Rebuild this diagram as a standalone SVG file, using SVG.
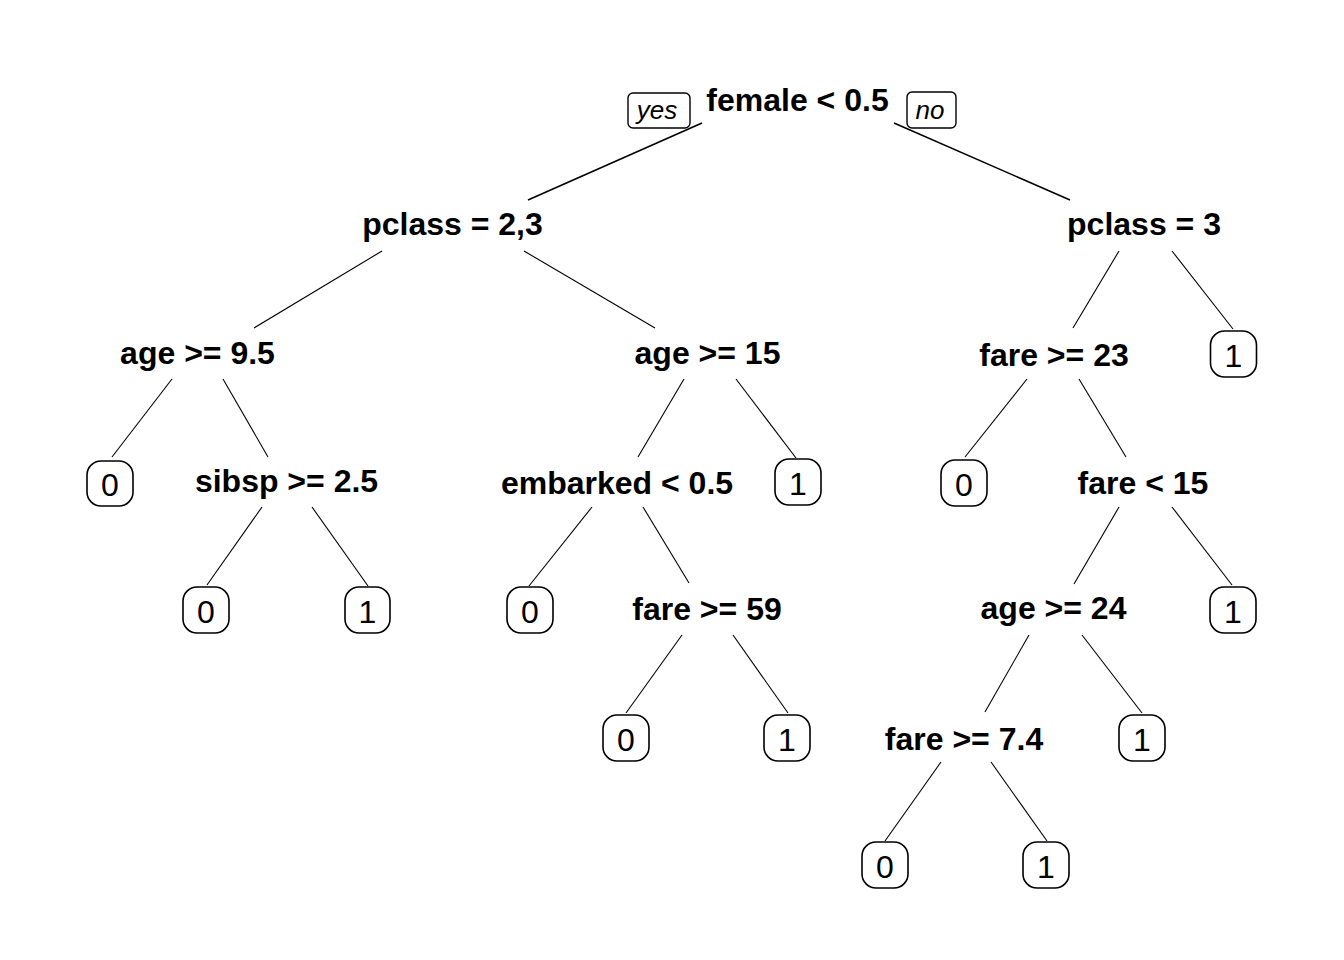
<svg xmlns="http://www.w3.org/2000/svg" width="1344" height="960" viewBox="0 0 1344 960">
<style>
.split{font-family:"Liberation Sans",Arial,sans-serif;font-weight:bold;font-size:32px;text-anchor:middle;fill:#000}
.leaf rect{fill:#fff;stroke:#000;stroke-width:1.6}
.leaf text{font-family:"Liberation Sans",Arial,sans-serif;font-size:32px;text-anchor:middle;fill:#000}
.yn rect{fill:#fff;stroke:#000;stroke-width:1.4}
.yn text{font-family:"Liberation Sans",Arial,sans-serif;font-style:italic;font-size:26px;text-anchor:middle;fill:#000}
.edges line{stroke:#000;stroke-width:1.1}
.edges line.root{stroke-width:1.6}
</style>
<rect width="1344" height="960" fill="#fff"/>
<g class="edges" id="connectors">
<line class="root" x1="702" y1="123" x2="528" y2="200"/>
<line class="root" x1="894" y1="123" x2="1070" y2="200"/>
<line x1="382" y1="251" x2="254" y2="328"/>
<line x1="524" y1="251" x2="655" y2="328"/>
<line x1="1119" y1="251" x2="1073" y2="328"/>
<line x1="1172" y1="251" x2="1233" y2="329"/>
<line x1="172" y1="379" x2="112" y2="457"/>
<line x1="223" y1="379" x2="268" y2="457"/>
<line x1="684" y1="379" x2="638" y2="457"/>
<line x1="736" y1="379" x2="796" y2="458"/>
<line x1="1027" y1="379" x2="965" y2="457"/>
<line x1="1079" y1="379" x2="1126" y2="457"/>
<line x1="262" y1="507" x2="207" y2="585"/>
<line x1="312" y1="507" x2="368" y2="586"/>
<line x1="592" y1="507" x2="529" y2="586"/>
<line x1="643" y1="507" x2="689" y2="583"/>
<line x1="1119" y1="507" x2="1074" y2="584"/>
<line x1="1172" y1="507" x2="1232" y2="585"/>
<line x1="682" y1="635" x2="626" y2="713"/>
<line x1="733" y1="635" x2="788" y2="713"/>
<line x1="1029" y1="635" x2="985" y2="712"/>
<line x1="1082" y1="635" x2="1142" y2="713"/>
<line x1="941" y1="762" x2="885" y2="841"/>
<line x1="991" y1="762" x2="1047" y2="841"/>
</g>
<g class="yn" id="yes-label"><rect x="628" y="93" width="62" height="35" rx="5"/><text x="657" y="118.5">yes</text></g>
<g class="yn" id="no-label"><rect x="907" y="92" width="49" height="36" rx="5"/><text x="930" y="118.5">no</text></g>
<g id="n-female"><text class="split" x="797.5" y="111">female &lt; 0.5</text></g>
<g id="n-pclass23"><text class="split" x="452.5" y="235">pclass = 2,3</text></g>
<g id="n-pclass3"><text class="split" x="1144" y="235">pclass = 3</text></g>
<g id="n-age95"><text class="split" x="197.5" y="364">age &gt;= 9.5</text></g>
<g id="n-age15"><text class="split" x="707.5" y="364">age &gt;= 15</text></g>
<g id="n-fare23"><text class="split" x="1054" y="366">fare &gt;= 23</text></g>
<g id="n-sibsp"><text class="split" x="286.5" y="492">sibsp &gt;= 2.5</text></g>
<g id="n-embarked"><text class="split" x="617" y="494">embarked &lt; 0.5</text></g>
<g id="n-fare15"><text class="split" x="1143" y="494">fare &lt; 15</text></g>
<g id="n-fare59"><text class="split" x="707" y="620">fare &gt;= 59</text></g>
<g id="n-age24"><text class="split" x="1053.5" y="619">age &gt;= 24</text></g>
<g id="n-fare74"><text class="split" x="964" y="750">fare &gt;= 7.4</text></g>
<g class="leaf" id="leaf-a"><rect x="87" y="461" width="46" height="45" rx="14"/><text x="110" y="496">0</text></g>
<g class="leaf" id="leaf-b"><rect x="183" y="587" width="46" height="46" rx="14"/><text x="206" y="622.5">0</text></g>
<g class="leaf" id="leaf-c"><rect x="345" y="587" width="45" height="46" rx="14"/><text x="367.5" y="622.5">1</text></g>
<g class="leaf" id="leaf-d"><rect x="507" y="587" width="46" height="46" rx="14"/><text x="530" y="622.5">0</text></g>
<g class="leaf" id="leaf-e"><rect x="775" y="459" width="46" height="46" rx="14"/><text x="798" y="494.5">1</text></g>
<g class="leaf" id="leaf-f"><rect x="603" y="715" width="46" height="46" rx="14"/><text x="626" y="750.5">0</text></g>
<g class="leaf" id="leaf-g"><rect x="764" y="715" width="46" height="46" rx="14"/><text x="787" y="750.5">1</text></g>
<g class="leaf" id="leaf-h"><rect x="1210.5" y="331" width="46" height="46" rx="14"/><text x="1233.5" y="366.5">1</text></g>
<g class="leaf" id="leaf-i"><rect x="941" y="460" width="46" height="46" rx="14"/><text x="964" y="495.5">0</text></g>
<g class="leaf" id="leaf-j"><rect x="1210" y="587" width="46" height="46" rx="14"/><text x="1233" y="622.5">1</text></g>
<g class="leaf" id="leaf-k"><rect x="1119" y="715" width="46" height="46" rx="14"/><text x="1142" y="750.5">1</text></g>
<g class="leaf" id="leaf-l"><rect x="862" y="842" width="46" height="46" rx="14"/><text x="885" y="877.5">0</text></g>
<g class="leaf" id="leaf-m"><rect x="1023" y="842" width="46" height="46" rx="14"/><text x="1046" y="877.5">1</text></g>
</svg>
